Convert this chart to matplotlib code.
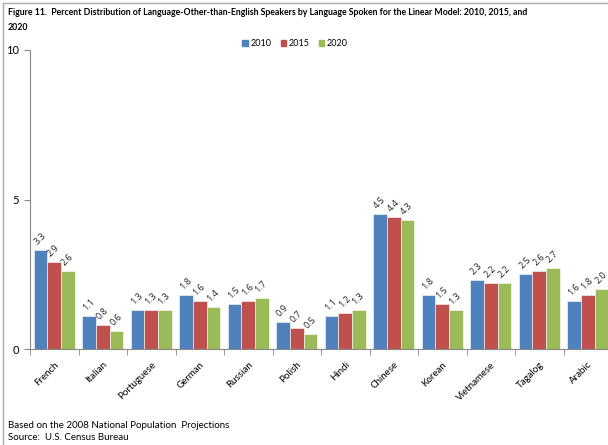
import numpy as np
import matplotlib
matplotlib.use("Agg")
import matplotlib.pyplot as plt
from matplotlib.lines import Line2D

plt.rcParams['font.family'] = ['Lato', 'DejaVu Sans']

languages = ['French', 'Italian', 'Portuguese', 'German', 'Russian', 'Polish',
             'Hindi', 'Chinese', 'Korean', 'Vietnamese', 'Tagalog', 'Arabic']
years = ['2010', '2015', '2020']
pct_2010 = [3.3, 1.1, 1.3, 1.8, 1.5, 0.9, 1.1, 4.5, 1.8, 2.3, 2.5, 1.6]
pct_2015 = [2.9, 0.8, 1.3, 1.6, 1.6, 0.7, 1.2, 4.4, 1.5, 2.2, 2.6, 1.8]
pct_2020 = [2.6, 0.6, 1.3, 1.4, 1.7, 0.5, 1.3, 4.3, 1.3, 2.2, 2.7, 2.0]
colors = ['#4F81BD', '#C0504D', '#9BBB59']

fig = plt.figure(figsize=(6.08, 4.45), dpi=100)
ax = fig.add_axes([30/608, 1 - 349/445, 582/608, 299/445])

x = np.arange(len(languages))
w = 0.28
for i, (vals, c) in enumerate(zip([pct_2010, pct_2015, pct_2020], colors)):
    pos = x + (i - 1) * w
    ax.bar(pos, vals, width=w, color=c, edgecolor='white', linewidth=0.4, label=years[i])
    for px, v in zip(pos, vals):
        ax.text(px - 0.01, v + 0.12, f"{v:.1f}", rotation=45, ha='center', va='bottom',
                fontsize=6.5, color='#222222', family=['Open Sans', 'DejaVu Sans'])

ax.set_xlim(-0.5, len(languages) - 0.5)
ax.set_ylim(0, 10)
ax.set_yticks([0, 5, 10])
ax.set_yticklabels(['0', '5', '10'], fontsize=8)
ax.set_xticks(x)
ax.set_xticklabels(languages, rotation=45, ha='right', rotation_mode='anchor', fontsize=7)
ax.tick_params(axis='x', length=0, pad=8)
ax.set_xticks(np.arange(len(languages) + 1) - 0.5, minor=True)
ax.tick_params(axis='x', which='minor', length=4, color='#888888')
ax.tick_params(axis='y', length=4, color='#888888', pad=4)
for s in ['top', 'right']:
    ax.spines[s].set_visible(False)
for s in ['left', 'bottom']:
    ax.spines[s].set_color('#888888')
    ax.spines[s].set_linewidth(0.8)

fig.text(8/608, 1 - 8/445,
         "Figure 11.  Percent Distribution of Language-Other-than-English Speakers by Language Spoken for the Linear Model: 2010, 2015, and\n2020",
         fontsize=6.3, fontweight='bold', va='top', ha='left', linespacing=1.85)

handles = [plt.Rectangle((0, 0), 1, 1, color=c) for c in colors]
fig.legend(handles, years, loc='center', bbox_to_anchor=(295/608, 1 - 44/445), ncol=3,
           frameon=False, fontsize=6.5, handlelength=0.6, handleheight=0.6,
           handletextpad=0.3, columnspacing=1.0)

fig.text(8/608, 1 - 425/445, "Based on the 2008 National Population  Projections", fontsize=7, va='center')
fig.text(8/608, 1 - 437/445, "Source:  U.S. Census Bureau", fontsize=7, va='center')

# outer border (top and left visible in the crop)
fig.add_artist(Line2D([3/608, 1], [1 - 3/445, 1 - 3/445], color='#AAAAAA', lw=1, transform=fig.transFigure))
fig.add_artist(Line2D([3/608, 3/608], [0, 1 - 3/445], color='#AAAAAA', lw=1, transform=fig.transFigure))

fig.savefig("out.png", dpi=100)
